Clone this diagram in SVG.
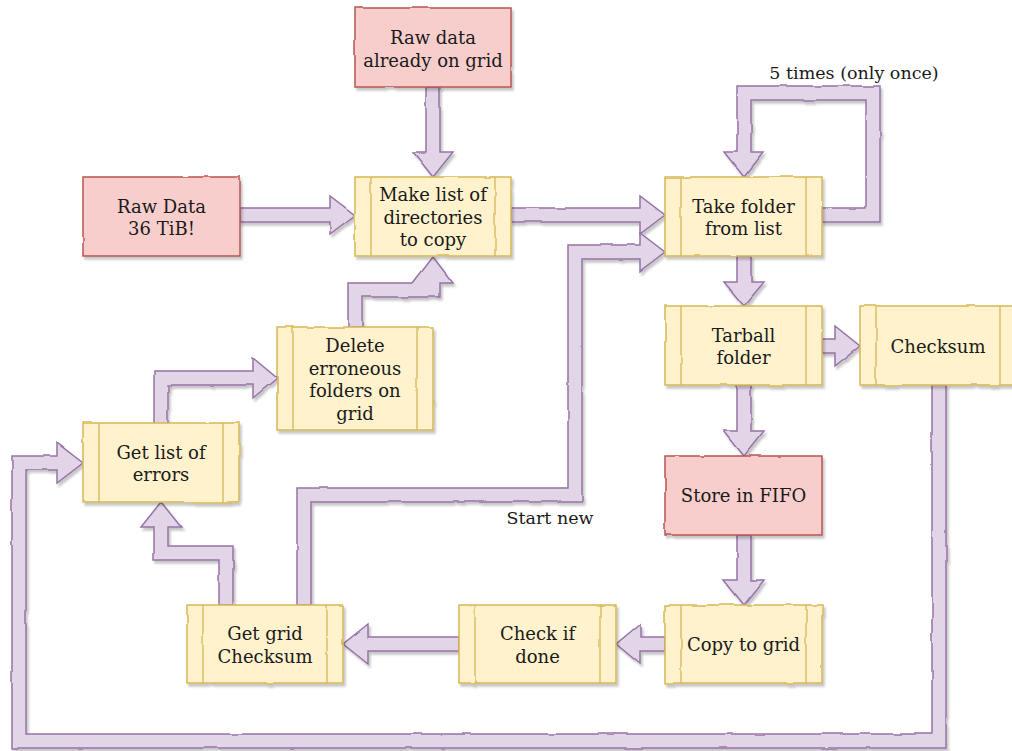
<svg xmlns="http://www.w3.org/2000/svg" width="1012" height="751" viewBox="0 0 1012 751">
<defs>
  <filter id="sk" x="-10%" y="-10%" width="120%" height="120%">
    <feTurbulence type="fractalNoise" baseFrequency="0.035" numOctaves="2" seed="3" result="n"/>
    <feDisplacementMap in="SourceGraphic" in2="n" scale="2.5" xChannelSelector="R" yChannelSelector="G" result="d"/>
    <feDropShadow in="d" dx="2" dy="3" stdDeviation="1.2" flood-color="#000" flood-opacity="0.22"/>
  </filter>
  <style>
    .y { fill: #fff2cc; stroke: #d6b656; stroke-width: 1.5; }
    .yl { fill: none; stroke: #d6b656; stroke-width: 1.3; }
    .r { fill: #f8cecc; stroke: #b85450; stroke-width: 1.5; }
    .a { fill: #e1d5e7; stroke: #9673a6; stroke-width: 1.5; stroke-linejoin: miter; }
    text { font-family: "DejaVu Serif", "Liberation Serif", serif; font-size: 18px; fill: #1a1a1a; text-anchor: middle; }
    .lbl { font-size: 17.5px; }
  </style>
</defs>
<rect width="1012" height="751" fill="#ffffff"/>

<g id="connectors" filter="url(#sk)">
  <!-- Raw data on grid -> Make list -->
  <polygon class="a" points="426,87 440,87 440,152 453,152 433,177 413,152 426,152"/>
  <!-- Raw Data 36 TiB -> Make list -->
  <polygon class="a" points="240,208 330,208 330,196 355,215 330,234 330,222 240,222"/>
  <!-- Make list -> Take folder -->
  <polygon class="a" points="511,208 640,208 640,196 665,215 640,234 640,222 511,222"/>
  <!-- Get grid Checksum -> Take folder (Start new) -->
  <polygon class="a" points="297,605 297,488 568,488 568,245 640,245 640,233 665,252 640,271 640,259 582,259 582,502 311,502 311,605"/>
  <!-- Take folder -> Tarball -->
  <polygon class="a" points="737,256 751,256 751,282 764,282 744,306 724,282 737,282"/>
  <!-- self loop -->
  <polygon class="a" points="822,208 866,208 866,100 751,100 751,152 764,152 744,177 724,152 737,152 737,86 880,86 880,222 822,222"/>
  <!-- Tarball -> Checksum -->
  <polygon class="a" points="822,339 835,339 835,326 860,346 835,366 835,353 822,353"/>
  <!-- Tarball -> FIFO -->
  <polygon class="a" points="737,385 751,385 751,431 764,431 744,456 724,431 737,431"/>
  <!-- FIFO -> Copy -->
  <polygon class="a" points="737,535 751,535 751,580 764,580 744,605 724,580 737,580"/>
  <!-- Copy -> Check if done -->
  <polygon class="a" points="665,637 640,637 640,624 616,644 640,664 640,651 665,651"/>
  <!-- Check if done -> Get grid Checksum -->
  <polygon class="a" points="459,637 368,637 368,624 343,644 368,664 368,651 459,651"/>
  <!-- Get grid Checksum -> Get list of errors -->
  <polygon class="a" points="219,605 219,560 154,560 154,527 141,527 161,502 181,527 168,527 168,546 233,546 233,605"/>
  <!-- Checksum -> Get list of errors -->
  <polygon class="a" points="932,385 932,734 26,734 26,470 57,470 57,483 83,463 57,443 57,456 12,456 12,748 946,748 946,385"/>
  <!-- Get list of errors -> Delete -->
  <polygon class="a" points="154,424 154,371 253,371 253,358 277,378 253,398 253,385 168,385 168,424"/>
  <!-- Delete -> Make list -->
  <polygon class="a" points="348,327 348,283 413,283 433,257 453,283 440,283 440,297 362,297 362,327"/>
</g>
<text class="lbl" x="854" y="79">5 times (only once)</text>
<text class="lbl" x="550" y="524">Start new</text>

<g id="raw-grid">
  <rect class="r" x="355" y="8" width="156" height="79" filter="url(#sk)"/>
  <text x="433" y="44">Raw data</text>
  <text x="433" y="66.5">already on grid</text>
</g>
<g id="raw-data">
  <rect class="r" x="83" y="177" width="157" height="79" filter="url(#sk)"/>
  <text x="161.5" y="212.5">Raw Data</text>
  <text x="161.5" y="235">36 TiB!</text>
</g>
<g id="make-list">
  <g filter="url(#sk)">
    <rect class="y" x="355" y="177" width="156" height="79"/>
    <line class="yl" x1="371" y1="177" x2="371" y2="256"/>
    <line class="yl" x1="495" y1="177" x2="495" y2="256"/>
  </g>
  <text x="433" y="201">Make list of</text>
  <text x="433" y="223.5">directories</text>
  <text x="433" y="246">to copy</text>
</g>
<g id="take-folder">
  <g filter="url(#sk)">
    <rect class="y" x="665" y="177" width="157" height="79"/>
    <line class="yl" x1="681" y1="177" x2="681" y2="256"/>
    <line class="yl" x1="806" y1="177" x2="806" y2="256"/>
  </g>
  <text x="743.5" y="212.5">Take folder</text>
  <text x="743.5" y="235">from list</text>
</g>
<g id="tarball">
  <g filter="url(#sk)">
    <rect class="y" x="665" y="306" width="157" height="79"/>
    <line class="yl" x1="681" y1="306" x2="681" y2="385"/>
    <line class="yl" x1="806" y1="306" x2="806" y2="385"/>
  </g>
  <text x="743.5" y="341.5">Tarball</text>
  <text x="743.5" y="364">folder</text>
</g>
<g id="checksum">
  <g filter="url(#sk)">
    <rect class="y" x="860" y="306" width="156" height="79"/>
    <line class="yl" x1="876" y1="306" x2="876" y2="385"/>
    <line class="yl" x1="1000" y1="306" x2="1000" y2="385"/>
  </g>
  <text x="938" y="353">Checksum</text>
</g>
<g id="store-fifo">
  <rect class="r" x="665" y="456" width="157" height="79" filter="url(#sk)"/>
  <text x="743.5" y="502">Store in FIFO</text>
</g>
<g id="copy-grid">
  <g filter="url(#sk)">
    <rect class="y" x="665" y="605" width="157" height="78"/>
    <line class="yl" x1="681" y1="605" x2="681" y2="683"/>
    <line class="yl" x1="806" y1="605" x2="806" y2="683"/>
  </g>
  <text x="743.5" y="651">Copy to grid</text>
</g>
<g id="check-done">
  <g filter="url(#sk)">
    <rect class="y" x="459" y="605" width="157" height="78"/>
    <line class="yl" x1="475" y1="605" x2="475" y2="683"/>
    <line class="yl" x1="600" y1="605" x2="600" y2="683"/>
  </g>
  <text x="537.5" y="640">Check if</text>
  <text x="537.5" y="662.5">done</text>
</g>
<g id="grid-checksum">
  <g filter="url(#sk)">
    <rect class="y" x="187" y="605" width="156" height="78"/>
    <line class="yl" x1="203" y1="605" x2="203" y2="683"/>
    <line class="yl" x1="327" y1="605" x2="327" y2="683"/>
  </g>
  <text x="265" y="640">Get grid</text>
  <text x="265" y="662.5">Checksum</text>
</g>
<g id="list-errors">
  <g filter="url(#sk)">
    <rect class="y" x="83" y="423" width="156" height="79"/>
    <line class="yl" x1="99" y1="423" x2="99" y2="502"/>
    <line class="yl" x1="223" y1="423" x2="223" y2="502"/>
  </g>
  <text x="161" y="458.5">Get list of</text>
  <text x="161" y="481">errors</text>
</g>
<g id="delete-folders">
  <g filter="url(#sk)">
    <rect class="y" x="277" y="327" width="156" height="103"/>
    <line class="yl" x1="293" y1="327" x2="293" y2="430"/>
    <line class="yl" x1="417" y1="327" x2="417" y2="430"/>
  </g>
  <text x="355" y="352">Delete</text>
  <text x="355" y="374.5">erroneous</text>
  <text x="355" y="397">folders on</text>
  <text x="355" y="419.5">grid</text>
</g>
</svg>
